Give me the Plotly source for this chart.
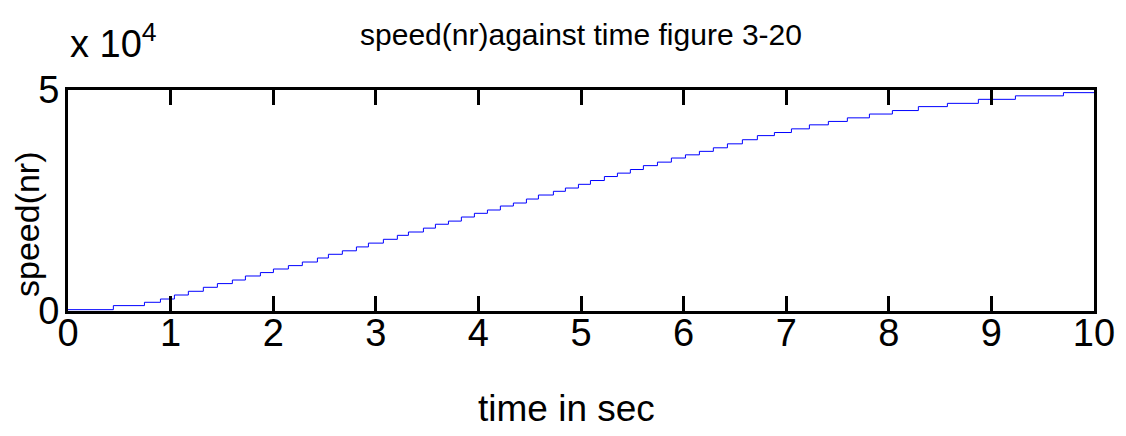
import plotly.graph_objects as go

time_s = [0.000, 0.442, 0.745, 0.901, 1.037, 1.173, 1.319, 1.456, 1.602, 1.729,
          1.875, 2.002, 2.148, 2.284, 2.431, 2.538, 2.674, 2.811, 2.928, 3.074,
          3.210, 3.318, 3.464, 3.581, 3.708, 3.834, 3.961, 4.088, 4.214, 4.341,
          4.468, 4.585, 4.731, 4.848, 4.975, 5.092, 5.228, 5.355, 5.481, 5.608,
          5.745, 5.881, 6.018, 6.154, 6.290, 6.427, 6.573, 6.719, 6.885, 7.051,
          7.226, 7.411, 7.596, 7.811, 8.035, 8.288, 8.571, 8.873, 9.234, 9.702,
          10.000]
speed_nr = [300, 1220, 1970, 2710, 3620, 4460, 5360, 6200, 7010, 7920,
            8690, 9500, 10270, 11080, 11990, 12830, 13620, 14500, 15360, 16220,
            17120, 17870, 18750, 19630, 20340, 21260, 22100, 22850, 23750, 24430,
            25330, 26240, 27080, 27820, 28660, 29520, 30420, 31190, 32010, 32890,
            33680, 34610, 35330, 36120, 36920, 37820, 38750, 39680, 40380, 41210,
            42120, 42890, 43700, 44560, 45350, 46240, 46980, 47890, 48680, 49400,
            49400]

x_ticks = list(range(0, 11))
y_tickvals = [0, 50000]
y_ticktext = ["0", "5"]

FONT = "Liberation Sans"

fig = go.Figure()
fig.add_trace(go.Scatter(
    x=time_s, y=speed_nr, mode="lines", line_shape="hv",
    line=dict(color="#0000ff", width=1), showlegend=False, hoverinfo="skip"))

W, H = 1126, 436
PH = H - 90 - 125
PW = W - 68 - 32
fig.update_layout(
    width=W, height=H,
    margin=dict(l=68, r=32, t=90, b=125, pad=0),
    paper_bgcolor="white", plot_bgcolor="white",
    font=dict(family=FONT, color="black"),
    title=dict(text="speed(nr)against time figure 3-20",
               font=dict(family=FONT, size=30, color="black"),
               x=(68 + 1094) / 2 / W, xanchor="center",
               y=1 - 34 / H, yanchor="middle"),
    xaxis=dict(range=[0, 10], tickmode="array", tickvals=x_ticks,
               ticks="inside", ticklen=15, tickwidth=3, tickcolor="black",
               showline=True, linewidth=3, linecolor="black", mirror="allticks",
               showgrid=False, zeroline=False, ticklabelstandoff=-14,
               tickfont=dict(family=FONT, size=38, color="black")),
    yaxis=dict(range=[0, 50000], tickmode="array", tickvals=y_tickvals,
               ticktext=y_ticktext, ticks="", showline=True, linewidth=3,
               linecolor="black", mirror=True, showgrid=False, zeroline=False,
               ticklabelstandoff=-2,
               tickfont=dict(family=FONT, size=38, color="black")),
    annotations=[
        dict(text="time in sec", xref="paper", yref="paper",
             x=(566 - 68) / PW, y=-(408 - 311) / PH, xanchor="center", yanchor="middle",
             showarrow=False, font=dict(family=FONT, size=37, color="black")),
        dict(text="speed(nr)", xref="paper", yref="paper", textangle=-90,
             x=-(68 - 27) / PW, y=(311 - 224) / PH,
             xanchor="center", yanchor="middle",
             showarrow=False, font=dict(family=FONT, size=34, color="black")),
        dict(text="x 10<sup>4</sup>", xref="paper", yref="paper",
             x=0, y=1 + (90 - 41) / PH, xanchor="left", yanchor="middle",
             showarrow=False, font=dict(family=FONT, size=38, color="black")),
    ],
)

fig.write_html("out.html")
